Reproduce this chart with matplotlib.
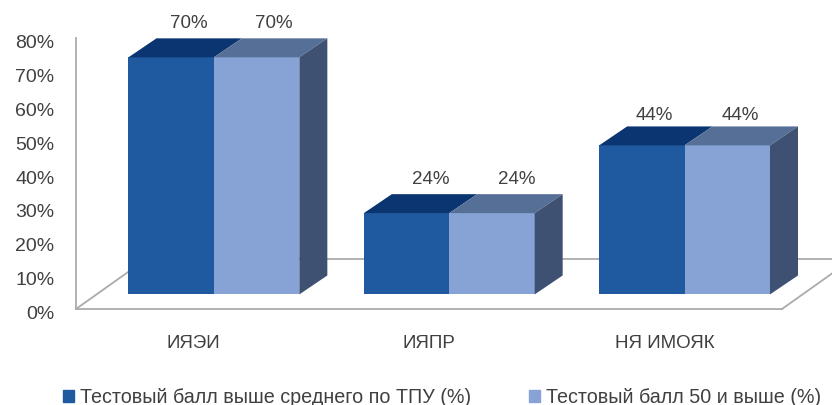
import numpy as np
import matplotlib
matplotlib.use('Agg')
import matplotlib.pyplot as plt
from matplotlib.patches import Polygon, Patch
from matplotlib.transforms import ScaledTranslation

plt.rcParams['font.family'] = ['Liberation Sans', 'DejaVu Sans']

categories = ['ИЯЭИ', 'ИЯПР', 'НЯ ИМОЯК']
series1 = [70, 24, 44]
series2 = [70, 24, 44]
series_names = ['Тестовый балл выше среднего по ТПУ (%)', 'Тестовый балл 50 и выше (%)']
y_ticks = [0, 10, 20, 30, 40, 50, 60, 70, 80]
y_labels = ['0%', '10%', '20%', '30%', '40%', '50%', '60%', '70%', '80%']

c_front = ['#1F5AA0', '#87A3D6']
c_top = ['#0A3570', '#566F97']
c_side = '#3E5173'
c_axis = '#ABABAB'
c_text = '#404040'

W, H = 832, 406
fig = plt.figure(figsize=(W / 100, H / 100), dpi=100)
ax = fig.add_axes([76 / W, (H - 310) / H, (782 - 76) / W, (310 - 39) / H])
ax.set_xlim(0, 3)
ax.set_ylim(0, 80)

# fake 3d offsets, in data units
bar_w = 0.363
front_dx = 0.086
front_dy = 4.3
depth_dx = 0.119
depth_dy = 5.6
floor_dx = 0.30
floor_dy = 14.8
# value labels were nudged by hand in the original, one shift per group
label_dx = [0.075, 0.105, 0.055]
label_dy = [4.7, 4.7, 3.4]

# floor
ax.plot([0, floor_dx], [0, floor_dy], color=c_axis, lw=1.3, clip_on=False, zorder=1)
ax.plot([floor_dx, 3 + floor_dx], [floor_dy, floor_dy], color=c_axis, lw=1.3, clip_on=False, zorder=1)
ax.plot([3, 3 + floor_dx], [0, floor_dy], color=c_axis, lw=1.3, clip_on=False, zorder=1)

x = np.arange(len(categories)) + 0.5
for i, vals in enumerate([series1, series2]):
    left = x + front_dx - bar_w + i * bar_w
    ax.bar(left, vals, bar_w, bottom=front_dy, align='edge', color=c_front[i], zorder=3, clip_on=False)
    for j, (l, v) in enumerate(zip(left, vals)):
        t = v + front_dy
        top = [(l, t), (l + bar_w, t), (l + bar_w + depth_dx, t + depth_dy), (l + depth_dx, t + depth_dy)]
        ax.add_patch(Polygon(top, closed=True, facecolor=c_top[i], edgecolor='none', zorder=3, clip_on=False))
        ax.text(l + bar_w / 2 + label_dx[j], t + depth_dy + label_dy[j], '%d%%' % v, ha='center', va='center',
                fontsize=13.5, color=c_text, clip_on=False)
        if i == 1:
            r = l + bar_w
            side = [(r, front_dy), (r + depth_dx, front_dy + depth_dy), (r + depth_dx, t + depth_dy), (r, t)]
            ax.add_patch(Polygon(side, closed=True, facecolor=c_side, edgecolor='none', zorder=3, clip_on=False))

for s in ['top', 'right']:
    ax.spines[s].set_visible(False)
for s in ['left', 'bottom']:
    ax.spines[s].set_color(c_axis)
    ax.spines[s].set_linewidth(1.3)

ax.set_yticks(y_ticks)
ax.set_yticklabels(y_labels, fontsize=14, color=c_text)
ax.tick_params(axis='y', length=0, pad=15.5)
# tick labels sit a little below their level in the original
shift = ScaledTranslation(0, -2.5 / 100, fig.dpi_scale_trans)
for lab in ax.get_yticklabels():
    lab.set_transform(lab.get_transform() + shift)

ax.set_xticks(x)
ax.set_xticklabels(categories, fontsize=13.5, color=c_text)
ax.tick_params(axis='x', length=0, pad=18)

handles = [Patch(color=c_front[0]), Patch(color=c_front[1])]
fig.legend(handles, series_names, loc='center left', bbox_to_anchor=(63 / W, (H - 398) / H), ncol=2,
           frameon=False, fontsize=14.2, labelcolor=c_text, handlelength=0.56, handleheight=0.56,
           handletextpad=0.3, columnspacing=2.95, borderpad=0, borderaxespad=0)

fig.savefig('out.png', dpi=100, facecolor='white')
